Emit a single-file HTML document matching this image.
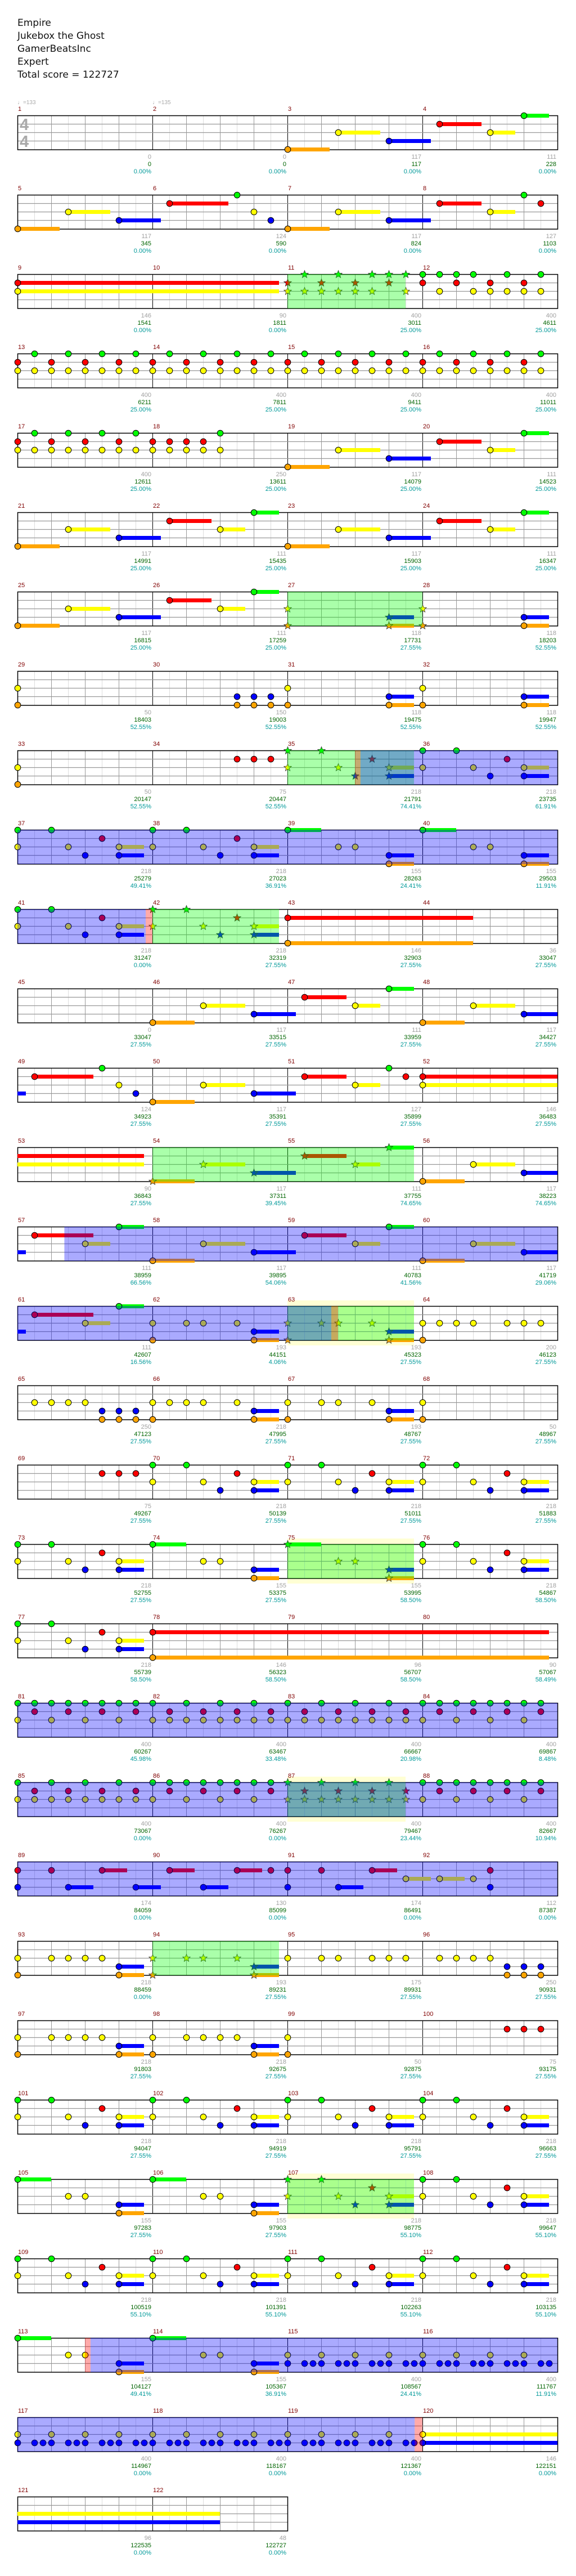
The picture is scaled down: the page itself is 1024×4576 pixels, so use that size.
<!DOCTYPE html>
<html><head><meta charset="utf-8">
<style>
html,body{margin:0;padding:0;background:#fff;}
body{width:1024px;height:4576px;overflow:hidden;position:relative;}
#title{position:absolute;left:31px;top:30px;font-family:"DejaVu Sans","Liberation Sans",sans-serif;font-size:17px;line-height:23px;color:#111;}
svg text{font-family:"Liberation Sans","DejaVu Sans",sans-serif;}
</style></head>
<body>
<div id="title">Empire<br>Jukebox the Ghost<br>GamerBeatsInc<br>Expert<br>Total score = 122727</div>
<svg id="s" width="1024" height="4576" xmlns="http://www.w3.org/2000/svg" style="position:absolute;left:0;top:0"></svg>
<script>
var LC={G:'#00ff00',R:'#ff0000',Y:'#ffff00',B:'#0000ff',O:'#ffa500'};
var LI={G:0,R:1,Y:2,B:3,O:4};
var R25="0G 2G 5R 0Y 3Y 4B 6Y1.5 6B1.5 8G 10G 13R 8Y 11Y 12B 14Y1.5 14B1.5 16G 18G 21R 16Y 19Y 20B 22Y1.5 22B1.5 24G 26G 29R 24Y 27Y 28B 30Y1.5 30B1.5";
var r29="0B";for(var k=0;k<11;k++){r29+=" "+(2*k+1)+"B "+(2*k+1.5)+"B "+(2*k+2)+"B";}r29+=" 23B 23.5B 24B8 Y0-22/2 24Y8";
var rows=[
["16O2.5 19Y2.5 22B2.5 25R2.5 28Y1.5 30G1.5",[]],
["0O2.5 3Y2.5 6B2.5 9R3.5 13G 14Y 15B 16O2.5 19Y2.5 22B2.5 25R2.5 28Y1.5 30G 31R",[]],
["0R15.5 0Y15.5 *17G *19G *21G *22G *23G *16R *18R *20R *22R *16Y *17Y *18Y *19Y *20Y *21Y *23Y 24G 25G 26G 27G 29G 31G 24R 26R 28R 30R 25Y 27Y 28Y 29Y 30Y 31Y",[['g',16,23]]],
["G1-31/2 R0-30/2 Y0-31/1",[]],
["G1-7/2 12G R0-6/2 R8-11/1 Y0-12/1 16O2.5 19Y2.5 22B2.5 25R2.5 28Y1.5 30G1.5",[]],
["0O2.5 3Y2.5 6B2.5 9R2.5 12Y1.5 14G1.5 16O2.5 19Y2.5 22B2.5 25R2.5 28Y1.5 30G1.5",[]],
["0O2.5 3Y2.5 6B2.5 9R2.5 12Y1.5 14G1.5 *16Y *16O *22B1.5 *22O1.5 *24Y *24O 30B1.5 30O1.5",[['g',16,24]]],
["0Y 0O B13-15/1 O13-15/1 16Y 16O 22B1.5 22O1.5 24Y 24O 30B1.5 30O1.5",[]],
["0Y 0O R13-15/1 *16G *18G *16Y *19Y *20B *21R *22Y1.5 *22B1.5 24G 26G 29R 24Y 27Y 30Y1.5 28B 30B1.5",[['g',16,23.5],['r',20,20.33],['b',20.33,32]]],
["0G 2G 8G 10G 16G2 24G2 5R 13R 0Y 3Y 6Y1.5 8Y 11Y 14Y1.5 19Y 20Y 27Y 28Y 4B 6B1.5 12B 14B1.5 22B1.5 30B1.5 22O1.5 30O1.5",[['b',0,32]]],
["0G 2G 5R 0Y 3Y 6Y1.5 4B 6B1.5 *8G *10G *13R *8Y *11Y *14Y1.5 *12B *14B1.5 16R11 16O11",[['b',0,7.6],['r',7.6,8],['g',8,15.5]]],
["8O2.5 11Y2.5 14B2.5 17R2.5 20Y1.5 22G1.5 24O2.5 27Y2.5 30B2",[]],
["-0B0.5 1R3.5 5G 6Y 7B 8O2.5 11Y2.5 14B2.5 17R2.5 20Y1.5 22G 23R 24R8 24Y8",[]],
["-0R7.5 -0Y7.5 *8O2.5 *11Y2.5 *14B2.5 *17R2.5 *20Y1.5 *22G1.5 24O2.5 27Y2.5 30B2",[['g',8,23.5]]],
["-0B0.5 1R3.5 4Y1.5 6G1.5 8O2.5 11Y2.5 14B2.5 17R2.5 20Y1.5 22G1.5 24O2.5 27Y2.5 30B2",[['b',2.78,32]]],
["-0B0.5 1R3.5 4Y1.5 6G1.5 8Y 10Y 11Y 13Y 8O 14B1.5 14O1.5 *16Y *18Y *19Y *21Y *16O *22B1.5 *22O1.5 24Y 25Y 26Y 27Y 29Y 30Y 31Y 24O",[['p',16,23.5],['g',16,23.5],['b',0,18.6],['r',18.6,19]]],
["Y1-4/1 B5-7/1 O5-8/1 Y8-11/1 13Y 14B1.5 14O1.5 16Y 16O 18Y 19Y 21Y 22B1.5 22O1.5 24Y 24O",[]],
["R5-7/1 8G 10G 8Y 11Y 12B 13R 14Y1.5 14B1.5 16G 18G 16Y 19Y 20B 21R 22Y1.5 22B1.5 24G 26G 24Y 27Y 28B 29R 30Y1.5 30B1.5",[]],
["0G 2G 5R 0Y 3Y 4B 6Y1.5 6B1.5 8G2 11Y 12Y 14B1.5 14O1.5 *16G2 *19Y *20Y *22B1.5 *22O1.5 24G 26G 29R 24Y 27Y 28B 30Y1.5 30B1.5",[['p',16,23.5],['g',16,23.5]]],
["0G 2G 5R 0Y 3Y 6Y1.5 4B 6B1.5 8R23.5 8O23.5",[]],
["G0-8/1 G10-24/2 G25-31/1 R1-31/2 Y0-8/2 Y9-24/1 Y26-30/2",[['b',0,32]]],
["G0-8/2 G9-15/1 *G16-22/2 G24-31/1 R1-15/2 *R17-23/2 R25-31/2 Y0-8/1 Y10-14/2 *Y16-23/1 Y24-30/2",[['p',16,23],['g',16,23],['b',0,32]]],
["0R 2R 5R1.5 9R1.5 13R1.5 15R 16R 18R 21R1.5 28R 23Y1.5 25Y1.5 27Y 0B 3B1.5 7B1.5 11B1.5 16B 19B1.5 28B",[['b',0,32]]],
["0Y 0O Y2-5/1 6B1.5 6O1.5 *8Y *10Y *11Y *13Y *8O *14B1.5 *14O1.5 16Y 18Y 19Y 21Y 22Y 23Y Y25-28/1 B29-31/1 O29-31/1",[['g',8,15.5]]],
["0Y 0O Y2-5/1 6B1.5 6O1.5 8Y 8O Y10-13/1 14B1.5 14O1.5 16Y 16O R29-31/1",[]],
[R25,[]],
["0G2 3Y 4Y 6B1.5 6O1.5 8G2 11Y 12Y 14B1.5 14O1.5 *16G *18G *21R *16Y *19Y *22Y1.5 *20B *22B1.5 24G 26G 29R 24Y 27Y 28B 30Y1.5 30B1.5",[['p',16,23.5],['g',16,23.5]]],
[R25,[]],
["0G2 3Y 4Y 6B1.5 6O1.5 8G2 11Y 12Y 14B1.5 14O1.5 Y16-30/2 16B 17B 17.5B 18B 19B 19.5B 20B 21B 21.5B 22B 23B 23.5B 24B 25B 25.5B 26B 27B 27.5B 28B 29B 29.5B 30B 31B 31.5B",[['r',4,4.33],['b',4.33,32]]],
[r29,[['b',0,23.54],['r',23.54,24]]],
["-0Y12 -0B12",[]]
];
var labs="0,0,0.00|0,0,0.00|117,117,0.00|111,228,0.00|117,345,0.00|124,590,0.00|117,824,0.00|127,1103,0.00|146,1541,0.00|90,1811,0.00|400,3011,25.00|400,4611,25.00|400,6211,25.00|400,7811,25.00|400,9411,25.00|400,11011,25.00|400,12611,25.00|250,13611,25.00|117,14079,25.00|111,14523,25.00|117,14991,25.00|111,15435,25.00|117,15903,25.00|111,16347,25.00|117,16815,25.00|111,17259,25.00|118,17731,27.55|118,18203,52.55|50,18403,52.55|150,19003,52.55|118,19475,52.55|118,19947,52.55|50,20147,52.55|75,20447,52.55|218,21791,74.41|218,23735,61.91|218,25279,49.41|218,27023,36.91|155,28263,24.41|155,29503,11.91|218,31247,0.00|218,32319,27.55|146,32903,27.55|36,33047,27.55|0,33047,27.55|117,33515,27.55|111,33959,27.55|117,34427,27.55|124,34923,27.55|117,35391,27.55|127,35899,27.55|146,36483,27.55|90,36843,27.55|117,37311,39.45|111,37755,74.65|117,38223,74.65|111,38959,66.56|117,39895,54.06|111,40783,41.56|117,41719,29.06|111,42607,16.56|193,44151,4.06|193,45323,27.55|200,46123,27.55|250,47123,27.55|218,47995,27.55|193,48767,27.55|50,48967,27.55|75,49267,27.55|218,50139,27.55|218,51011,27.55|218,51883,27.55|218,52755,27.55|155,53375,27.55|155,53995,58.50|218,54867,58.50|218,55739,58.50|146,56323,58.50|96,56707,58.50|90,57067,58.49|400,60267,45.98|400,63467,33.48|400,66667,20.98|400,69867,8.48|400,73067,0.00|400,76267,0.00|400,79467,23.44|400,82667,10.94|174,84059,0.00|130,85099,0.00|174,86491,0.00|112,87387,0.00|218,88459,0.00|193,89231,27.55|175,89931,27.55|250,90931,27.55|218,91803,27.55|218,92675,27.55|50,92875,27.55|75,93175,27.55|218,94047,27.55|218,94919,27.55|218,95791,27.55|218,96663,27.55|155,97283,27.55|155,97903,27.55|218,98775,55.10|218,99647,55.10|218,100519,55.10|218,101391,55.10|218,102263,55.10|218,103135,55.10|155,104127,49.41|155,105367,36.91|400,108567,24.41|400,111767,11.91|400,114967,0.00|400,118167,0.00|400,121367,0.00|146,122151,0.00|96,122535,0.00|48,122727,0.00".split('|');

function parse(s){
  var out=[];
  s.split(/\s+/).forEach(function(tok){
    if(!tok)return;
    var star=false,nohead=false;
    if(tok[0]=='*'){star=true;tok=tok.slice(1);}
    if(tok[0]=='-'){nohead=true;tok=tok.slice(1);}
    var m=tok.match(/^([GRYBO])([\d.]+)-([\d.]+)\/([\d.]+)$/);
    if(m){for(var p=+m[2];p<=+m[3]+1e-6;p+=+m[4])out.push({p:p,l:m[1],len:0,star:star});return;}
    m=tok.match(/^([\d.]+)([GRYBO])([\d.]*)$/);
    if(m)out.push({p:+m[1],l:m[2],len:m[3]?+m[3]:0,star:star,nohead:nohead});
  });
  return out;
}
function starPts(cx,cy,ro,ri){
  var pts=[];
  for(var i=0;i<10;i++){var a=-Math.PI/2+i*Math.PI/5;var r=i%2?ri:ro;pts.push((cx+r*Math.cos(a)).toFixed(1)+','+(cy+r*Math.sin(a)).toFixed(1));}
  return pts.join(' ');
}
var h=[];
var X0=31;
rows.forEach(function(row,k){
  var T=205+141*k;
  var nM=(k==30)?2:4;
  var W=240*nM;
  var ov=row[1];
  ov.forEach(function(o){if(o[0]=='p')h.push('<rect x="'+(X0+o[1]*30)+'" y="'+(T-10)+'" width="'+((o[2]-o[1])*30)+'" height="80" fill="#ffffd4"/>');});
  // grid
  for(var i=1;i<nM*8;i++){
    var x=X0+i*30+0.5;
    var c=(i%8==0)?'#000':(i%2==0?'#999':'#ddd');
    h.push('<line x1="'+x+'" y1="'+T+'" x2="'+x+'" y2="'+(T+61)+'" stroke="'+c+'" stroke-width="1"/>');
  }
  for(var j=1;j<4;j++){
    var y=T+j*15+0.5;
    h.push('<line x1="'+X0+'" y1="'+y+'" x2="'+(X0+W)+'" y2="'+y+'" stroke="#999" stroke-width="1.2"/>');
  }
  h.push('<rect x="'+(X0+0.5)+'" y="'+(T+0.5)+'" width="'+W+'" height="60.5" fill="none" stroke="#000" stroke-width="1.5"/>');
  var notes=parse(row[0]);
  notes.forEach(function(n){
    if(n.len>0){var y=T+LI[n.l]*15+0.5;h.push('<rect x="'+(X0+n.p*30)+'" y="'+(y-3.5)+'" width="'+(n.len*30)+'" height="7" fill="'+LC[n.l]+'"/>');}
  });
  notes.forEach(function(n){
    if(n.nohead)return;
    var x=X0+n.p*30+0.5,y=T+LI[n.l]*15+0.5;
    if(n.star)h.push('<polygon points="'+starPts(x,y,7,3)+'" fill="'+LC[n.l]+'" stroke="#333" stroke-width="0.8"/>');
    else h.push('<circle cx="'+x+'" cy="'+y+'" r="5.3" fill="'+LC[n.l]+'" stroke="#000" stroke-width="1"/>');
  });
  ov.forEach(function(o){
    var col={g:'#00ff00',b:'#0000ff',r:'#ff0000'}[o[0]];
    if(!col)return;
    h.push('<rect x="'+(X0+o[1]*30)+'" y="'+T+'" width="'+((o[2]-o[1])*30)+'" height="61" fill="'+col+'" fill-opacity="0.333"/>');
  });
  for(var m=0;m<nM;m++){
    var mi=k*4+m;
    h.push('<text x="'+(X0+m*240+1)+'" y="'+(T-8)+'" font-size="11" fill="#800000">'+(mi+1)+'</text>');
    var L=labs[mi].split(',');
    var xe=X0+(m+1)*240-2;
    h.push('<text x="'+xe+'" y="'+(T+77)+'" font-size="11" fill="#a0a0a0" text-anchor="end">'+L[0]+'</text>');
    h.push('<text x="'+xe+'" y="'+(T+90)+'" font-size="11" fill="#006400" text-anchor="end">'+L[1]+'</text>');
    h.push('<text x="'+xe+'" y="'+(T+103)+'" font-size="11" fill="#009999" text-anchor="end">'+L[2]+'%</text>');
  }
});
// time signature and tempos
h.push('<text x="35" y="231" font-size="29" font-weight="bold" fill="#aaa">4</text>');
h.push('<text x="35" y="261" font-size="29" font-weight="bold" fill="#aaa">4</text>');
h.push('<text x="31" y="185" font-size="10" fill="#aaa">&#9833;=133</text>');
h.push('<text x="271" y="185" font-size="10" fill="#aaa">&#9833;=135</text>');
document.getElementById('s').innerHTML=h.join('');
</script>
</body></html>
